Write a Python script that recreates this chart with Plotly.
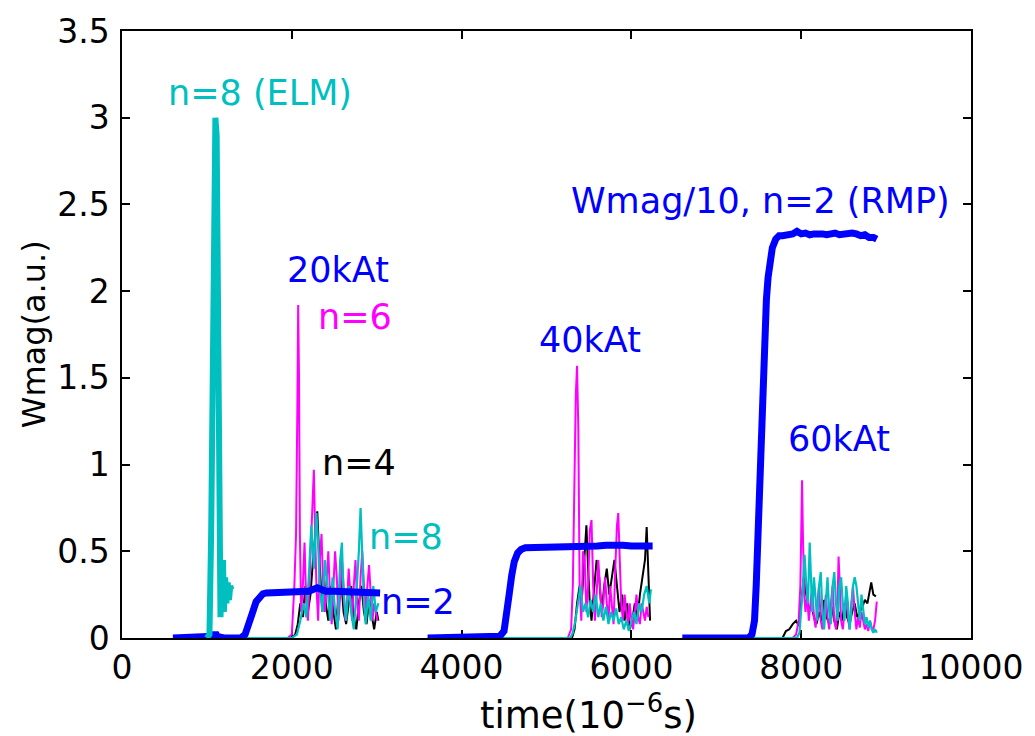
import plotly.graph_objects as go

# ---------------- data (time in 1e-6 s, Wmag in a.u.) ----------------
# Run 1 : 20 kAt
t_n2_20 = [600, 1000, 1080, 1100, 1120, 1200, 1400, 1450, 1500, 1540, 1580, 1620, 1660, 1700, 1800, 1900,
           2000, 2100, 2200, 2250, 2300, 2350, 2400, 2500, 2600, 2700, 2800, 2900, 3000, 3040]
w_n2_20 = [0, 0, 0.01, 0.03, 0.01, 0, 0, 0.02, 0.08, 0.15, 0.21, 0.24, 0.255, 0.26, 0.26, 0.26,
           0.26, 0.265, 0.27, 0.28, 0.29, 0.28, 0.27, 0.27, 0.27, 0.265, 0.27, 0.265, 0.26, 0.26]

t_elm = [1000, 1030, 1050, 1070, 1085, 1100, 1115, 1125, 1135, 1145, 1160, 1175, 1190, 1200, 1215,
         1230, 1245, 1260, 1275, 1290]
w_elm = [0, 0.02, 0.6, 1.6, 2.5, 3.0, 2.9, 2.2, 1.0, 0.35, 0.12, 0.3, 0.45, 0.15, 0.35,
         0.2, 0.32, 0.22, 0.3, 0.28]

t_n6_20 = [1950, 2000, 2030, 2050, 2065, 2075, 2085, 2095, 2110, 2130, 2150, 2170, 2190, 2210, 2230,
           2250, 2260, 2275, 2290, 2310, 2330, 2350, 2370, 2390, 2410, 2430, 2450, 2470, 2490, 2510,
           2530, 2550, 2570, 2590, 2610, 2630, 2650, 2670, 2690, 2710, 2730, 2750, 2770, 2790, 2810,
           2830, 2850, 2870, 2890, 2910, 2930, 2950, 2970, 2990, 3010]
w_n6_20 = [0, 0.02, 0.3, 0.6, 1.3, 1.92, 1.5, 0.6, 0.15, 0.3, 0.55, 0.2, 0.1, 0.4, 0.6,
           0.85, 0.97, 0.6, 0.3, 0.1, 0.45, 0.6, 0.3, 0.15, 0.35, 0.5, 0.25, 0.08, 0.3, 0.5,
           0.35, 0.1, 0.25, 0.45, 0.3, 0.1, 0.2, 0.4, 0.25, 0.1, 0.3, 0.45, 0.2, 0.1, 0.35,
           0.5, 0.3, 0.15, 0.3, 0.42, 0.25, 0.1, 0.2, 0.15, 0.1]

t_n4_20 = [2000, 2040, 2070, 2100, 2130, 2160, 2190, 2220, 2250, 2280, 2300, 2320, 2340, 2360, 2380,
           2400, 2430, 2460, 2490, 2520, 2550, 2580, 2610, 2640, 2670, 2700, 2730, 2760, 2790, 2820,
           2850, 2880, 2910, 2940, 2970, 3000, 3020]
w_n4_20 = [0, 0.02, 0.08, 0.2, 0.12, 0.3, 0.15, 0.25, 0.45, 0.6, 0.73, 0.5, 0.3, 0.15, 0.35,
           0.2, 0.1, 0.3, 0.15, 0.05, 0.25, 0.35, 0.15, 0.08, 0.2, 0.3, 0.12, 0.05, 0.2, 0.3,
           0.15, 0.08, 0.22, 0.12, 0.05, 0.15, 0.1]

t_n8_20 = [1300, 2000, 2060, 2100, 2140, 2170, 2200, 2230, 2260, 2290, 2310, 2330, 2360, 2390, 2420,
           2450, 2480, 2510, 2540, 2570, 2590, 2610, 2640, 2670, 2700, 2730, 2760, 2790, 2810, 2830,
           2850, 2870, 2900, 2930, 2960, 2990, 3020]
w_n8_20 = [0, 0, 0.02, 0.1, 0.2, 0.12, 0.35, 0.65, 0.4, 0.72, 0.55, 0.3, 0.15, 0.45, 0.3,
           0.1, 0.35, 0.15, 0.05, 0.45, 0.55, 0.25, 0.1, 0.3, 0.15, 0.05, 0.25, 0.5, 0.75, 0.45,
           0.2, 0.08, 0.25, 0.1, 0.3, 0.15, 0.2]

# Run 2 : 40 kAt
t_n2_40 = [3600, 4400, 4450, 4500, 4530, 4560, 4590, 4620, 4660, 4700, 4750, 4800, 4900, 5000, 5100,
           5200, 5300, 5400, 5500, 5600, 5700, 5800, 5900, 6000, 6100, 6200, 6250]
w_n2_40 = [0, 0, 0.01, 0.04, 0.12, 0.25, 0.36, 0.44, 0.49, 0.51, 0.52, 0.52, 0.52, 0.52, 0.52,
           0.52, 0.52, 0.525, 0.53, 0.53, 0.535, 0.54, 0.535, 0.53, 0.535, 0.53, 0.53]

t_n6_40 = [5250, 5290, 5310, 5330, 5345, 5360, 5375, 5390, 5410, 5430, 5450, 5470, 5490, 5510, 5530,
           5550, 5570, 5590, 5610, 5630, 5650, 5670, 5690, 5710, 5730, 5750, 5770, 5790, 5810, 5830,
           5845, 5860, 5880, 5900, 5920, 5940, 5960, 5980, 6000, 6020, 6040, 6060, 6080, 6100, 6120,
           6140, 6160, 6180, 6200]
w_n6_40 = [0, 0.05, 0.3, 0.9, 1.4, 1.57, 1.2, 0.3, 0.1, 0.5, 0.45, 0.15, 0.3, 0.62, 0.68,
           0.3, 0.1, 0.25, 0.45, 0.3, 0.12, 0.2, 0.35, 0.2, 0.1, 0.3, 0.2, 0.08, 0.4, 0.65,
           0.72, 0.5, 0.2, 0.1, 0.25, 0.15, 0.08, 0.2, 0.1, 0.05, 0.15, 0.25, 0.12, 0.08, 0.2,
           0.15, 0.1, 0.18, 0.12]

t_n4_40 = [5300, 5330, 5360, 5390, 5420, 5450, 5470, 5490, 5510, 5530, 5560, 5590, 5620, 5650, 5680,
           5710, 5740, 5770, 5800, 5830, 5860, 5890, 5920, 5950, 5980, 6010, 6040, 6070, 6100, 6130,
           6160, 6180, 6200, 6220]
w_n4_40 = [0, 0.05, 0.2, 0.3, 0.25, 0.5, 0.65, 0.4, 0.2, 0.1, 0.3, 0.45, 0.35, 0.15, 0.3,
           0.4, 0.25, 0.35, 0.45, 0.3, 0.15, 0.25, 0.1, 0.2, 0.05, 0.1, 0.2, 0.1, 0.25, 0.35,
           0.45, 0.64, 0.35, 0.1]

t_n8_40 = [3600, 5280, 5310, 5340, 5370, 5400, 5430, 5460, 5490, 5520, 5550, 5580, 5610, 5640, 5670,
           5700, 5730, 5760, 5790, 5820, 5850, 5880, 5910, 5940, 5970, 6000, 6030, 6060, 6090, 6120,
           6150, 6180, 6210, 6230]
w_n8_40 = [0, 0, 0.03, 0.1, 0.2, 0.3, 0.15, 0.2, 0.12, 0.22, 0.15, 0.25, 0.12, 0.2, 0.1,
           0.18, 0.08, 0.15, 0.1, 0.17, 0.08, 0.12, 0.05, 0.1, 0.04, 0.1, 0.15, 0.08, 0.2, 0.15,
           0.25, 0.3, 0.2, 0.28]

# Run 3 : 60 kAt
t_n2_60 = [6600, 7380, 7420, 7450, 7470, 7490, 7510, 7530, 7550, 7570, 7590, 7610, 7630, 7660, 7700,
           7740, 7780, 7820, 7860, 7900, 7950, 8000, 8050, 8100, 8150, 8200, 8250, 8300, 8350, 8400,
           8450, 8500, 8550, 8600, 8650, 8700, 8750, 8800, 8850, 8890]
w_n2_60 = [0, 0, 0.02, 0.1, 0.3, 0.6, 0.9, 1.2, 1.5, 1.75, 1.95, 2.08, 2.17, 2.25, 2.3,
           2.32, 2.32, 2.325, 2.32, 2.33, 2.345, 2.33, 2.335, 2.325, 2.33, 2.335, 2.33, 2.325, 2.33, 2.335,
           2.325, 2.33, 2.325, 2.335, 2.33, 2.32, 2.325, 2.31, 2.31, 2.30]

t_n6_60 = [7900, 7940, 7970, 7990, 8000, 8010, 8020, 8035, 8050, 8070, 8090, 8110, 8130, 8150, 8170,
           8190, 8210, 8230, 8250, 8270, 8290, 8310, 8330, 8350, 8370, 8390, 8410, 8430, 8440, 8455,
           8470, 8490, 8510, 8530, 8550, 8570, 8590, 8610, 8630, 8650, 8670, 8690, 8710, 8730, 8750,
           8770, 8790, 8810, 8830, 8850, 8870, 8890]
w_n6_60 = [0, 0.02, 0.1, 0.3, 0.6, 0.91, 0.6, 0.25, 0.15, 0.25, 0.1, 0.2, 0.3, 0.12, 0.06,
           0.2, 0.3, 0.1, 0.05, 0.15, 0.25, 0.12, 0.05, 0.2, 0.3, 0.1, 0.05, 0.25, 0.47, 0.3,
           0.1, 0.05, 0.15, 0.25, 0.12, 0.05, 0.2, 0.3, 0.15, 0.05, 0.12, 0.06, 0.15, 0.1, 0.05,
           0.08, 0.04, 0.1, 0.06, 0.05, 0.1, 0.21]

t_n4_60 = [7780, 7820, 7860, 7900, 7940, 7970, 8000, 8030, 8060, 8090, 8120, 8150, 8180, 8210, 8240,
           8270, 8300, 8330, 8360, 8390, 8420, 8450, 8480, 8510, 8540, 8570, 8600, 8630, 8660, 8690,
           8720, 8750, 8780, 8810, 8825, 8850, 8880]
w_n4_60 = [0, 0.04, 0.05, 0.08, 0.1, 0.07, 0.2, 0.35, 0.25, 0.15, 0.2, 0.12, 0.08, 0.15, 0.1,
           0.22, 0.12, 0.08, 0.18, 0.1, 0.05, 0.15, 0.1, 0.2, 0.12, 0.08, 0.15, 0.2, 0.12, 0.15,
           0.18, 0.22, 0.2, 0.28, 0.32, 0.25, 0.24]

t_n8_60 = [6600, 7950, 7980, 8000, 8020, 8040, 8060, 8080, 8100, 8115, 8130, 8150, 8170, 8190, 8210,
           8230, 8250, 8270, 8290, 8310, 8330, 8350, 8370, 8390, 8410, 8430, 8450, 8470, 8490, 8510,
           8530, 8550, 8570, 8590, 8610, 8630, 8650, 8670, 8690, 8710, 8730, 8750, 8770, 8790, 8810,
           8830, 8850, 8870, 8890]
w_n8_60 = [0, 0, 0.03, 0.15, 0.3, 0.48, 0.3, 0.2, 0.55, 0.35, 0.15, 0.35, 0.2, 0.1, 0.3,
           0.38, 0.15, 0.05, 0.2, 0.35, 0.15, 0.08, 0.3, 0.38, 0.2, 0.1, 0.3, 0.35, 0.2, 0.1,
           0.3, 0.2, 0.05, 0.15, 0.3, 0.35, 0.3, 0.2, 0.1, 0.25, 0.15, 0.08, 0.12, 0.06, 0.1,
           0.05, 0.03, 0.05, 0.03]

x_ticks = [0, 2000, 4000, 6000, 8000, 10000]
y_ticks = [0, 0.5, 1, 1.5, 2, 2.5, 3, 3.5]

labels_text = ["n=8 (ELM)", "20kAt", "n=6", "n=4", "n=8", "n=2", "40kAt",
               "Wmag/10, n=2 (RMP)", "60kAt"]
labels_x = [1630, 2540, 2740, 2790, 3350, 3490, 5510, 7520, 8450]
labels_y = [3.14, 2.12, 1.85, 1.01, 0.58, 0.21, 1.72, 2.52, 1.15]

# ---------------- styles ----------------
BLUE = "#0000FF"
MAGENTA = "#FF00FF"
CYAN = "#00BFBF"
BLACK = "#000000"
labels_color = [CYAN, BLUE, MAGENTA, BLACK, CYAN, BLUE, BLUE, BLUE, BLUE]
FONT = "DejaVu Sans"

fig = go.Figure()

def add(t, w, color, width):
    fig.add_trace(go.Scatter(x=t, y=w, mode="lines",
                             line=dict(color=color, width=width),
                             showlegend=False, hoverinfo="skip"))

for t, w in [(t_n4_20, w_n4_20), (t_n4_40, w_n4_40), (t_n4_60, w_n4_60)]:
    add(t, w, BLACK, 2)
for t, w in [(t_n6_20, w_n6_20), (t_n6_40, w_n6_40), (t_n6_60, w_n6_60)]:
    add(t, w, MAGENTA, 2)
for t, w in [(t_n8_20, w_n8_20), (t_n8_40, w_n8_40), (t_n8_60, w_n8_60)]:
    add(t, w, CYAN, 2.2)
for t, w in [(t_n2_20, w_n2_20), (t_n2_40, w_n2_40), (t_n2_60, w_n2_60)]:
    add(t, w, BLUE, 7)
add(t_elm, w_elm, CYAN, 6)

for txt, x, y, c in zip(labels_text, labels_x, labels_y, labels_color):
    fig.add_annotation(x=x, y=y, text=txt, showarrow=False,
                       xanchor="center", yanchor="middle",
                       font=dict(family=FONT, size=35, color=c))

# axis titles (placed in paper coordinates)
fig.add_annotation(xref="paper", yref="paper", x=0.55, y=-0.122, text="time(10<sup>−6</sup>s)",
                   showarrow=False, xanchor="center", yanchor="middle",
                   font=dict(family=FONT, size=37, color="black"))
fig.add_annotation(xref="paper", yref="paper", x=-0.104, y=0.5, text="Wmag(a.u.)",
                   textangle=-90, showarrow=False, xanchor="center", yanchor="middle",
                   font=dict(family=FONT, size=32, color="black"))

axis_common = dict(showline=True, linecolor="black", linewidth=1.5, mirror="ticks",
                   ticks="inside", ticklen=8, tickwidth=1.5, tickcolor="black",
                   showgrid=False, zeroline=False, layer="below traces",
                   tickfont=dict(family=FONT, size=33, color="black"))

fig.update_xaxes(range=[0, 10000], tickvals=x_ticks, ticktext=[str(v) for v in x_ticks],
                 ticklabelstandoff=0, **axis_common)
fig.update_yaxes(range=[0, 3.5], tickvals=y_ticks, ticktext=[f"{v:g}" for v in y_ticks],
                 ticklabelstandoff=4, **axis_common)

fig.update_layout(width=1035, height=736, plot_bgcolor="white", paper_bgcolor="white",
                  margin=dict(l=122, r=54, t=25, b=98), showlegend=False)

fig.write_html("out.html")
